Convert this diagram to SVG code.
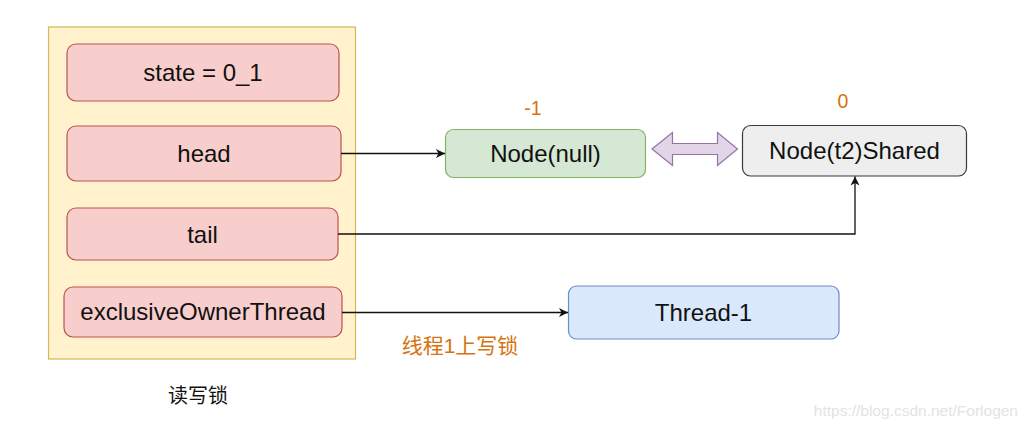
<svg xmlns="http://www.w3.org/2000/svg" width="1027" height="430" viewBox="0 0 1027 430">
  <style>
    .lbl { font-family: "Liberation Sans", Arial, sans-serif; font-size: 24px; fill: #111; text-anchor: middle; }
    .red { fill: #f8cecc; stroke: #b85450; stroke-width: 1.2; }
    .orange { font-family: "Liberation Sans", Arial, sans-serif; font-size: 19.5px; fill: #d5730f; text-anchor: middle; }
    .cjk { font-family: "Liberation Sans", "Noto Sans CJK SC", sans-serif; }
    .conn { fill: none; stroke: #111; stroke-width: 1.3; }
  </style>
  <defs>
    <marker id="arr" markerUnits="userSpaceOnUse" markerWidth="12" markerHeight="12" refX="10" refY="6" orient="auto">
      <path d="M1,1.5 L10,6 L1,10.5 L3.5,6 z" fill="#111"/>
    </marker>
  </defs>
  <rect width="1027" height="430" fill="#ffffff"/>

  <g id="container">
    <rect x="48.5" y="27" width="307" height="332" fill="#fff2cc" stroke="#d6b656" stroke-width="1.2"/>
  </g>
  <g id="state">
    <rect class="red" x="67" y="44" width="272" height="57" rx="9"/>
    <text class="lbl" x="203" y="81">state = 0_1</text>
  </g>
  <g id="head">
    <rect class="red" x="67" y="126" width="274" height="55" rx="9"/>
    <text class="lbl" x="204" y="161.5">head</text>
  </g>
  <g id="tail">
    <rect class="red" x="67" y="208" width="271" height="52" rx="9"/>
    <text class="lbl" x="202.5" y="242.5">tail</text>
  </g>
  <g id="exclusiveOwnerThread">
    <rect class="red" x="64" y="287" width="278" height="50" rx="9"/>
    <text class="lbl" x="203" y="320">exclusiveOwnerThread</text>
  </g>
  <g id="lockLabel">
    <text x="198" y="403" font-size="20" fill="#111" text-anchor="middle" class="cjk">读写锁</text>
  </g>

  <g id="nodeNull">
    <rect x="445.5" y="129.5" width="200" height="48" rx="8" fill="#d5e8d4" stroke="#82b366" stroke-width="1.2"/>
    <text class="lbl" x="545.5" y="161.5">Node(null)</text>
    <text class="orange" x="533" y="115">-1</text>
  </g>
  <g id="nodeT2">
    <rect x="742.5" y="125.5" width="224" height="50.5" rx="8" fill="#eeeeee" stroke="#36393d" stroke-width="1.2"/>
    <text class="lbl" x="854.5" y="159">Node(t2)Shared</text>
    <text class="orange" x="843" y="108">0</text>
  </g>
  <g id="thread1">
    <rect x="568.5" y="286" width="270.5" height="53" rx="8" fill="#dae8fc" stroke="#6c8ebf" stroke-width="1.2"/>
    <text class="lbl" x="703.5" y="321">Thread-1</text>
  </g>
  <g id="writeLockLabel">
    <text x="460" y="352.5" font-size="21" fill="#d5730f" text-anchor="middle" class="cjk">线程1上写锁</text>
  </g>

  <g id="connectors">
    <path class="conn" d="M341,153.5 L445,153.5" marker-end="url(#arr)"/>
    <path class="conn" d="M338,234 L855,234 L855,176.5" stroke="#333" marker-end="url(#arr)"/>
    <path class="conn" d="M342,312.5 L568,312.5" marker-end="url(#arr)"/>
    <path d="M652,149 L672.5,132.5 L672.5,143.5 L717.5,143.5 L717.5,132.5 L737.5,149 L717.5,165.5 L717.5,154.5 L672.5,154.5 L672.5,165.5 z" fill="#e1d5e7" stroke="#9673a6" stroke-width="1.2"/>
  </g>

  <text x="1018" y="416" font-family="'Liberation Sans', Arial, sans-serif" font-size="15.5" fill="#e3e3e3" text-anchor="end">https://blog.csdn.net/Forlogen</text>
</svg>
